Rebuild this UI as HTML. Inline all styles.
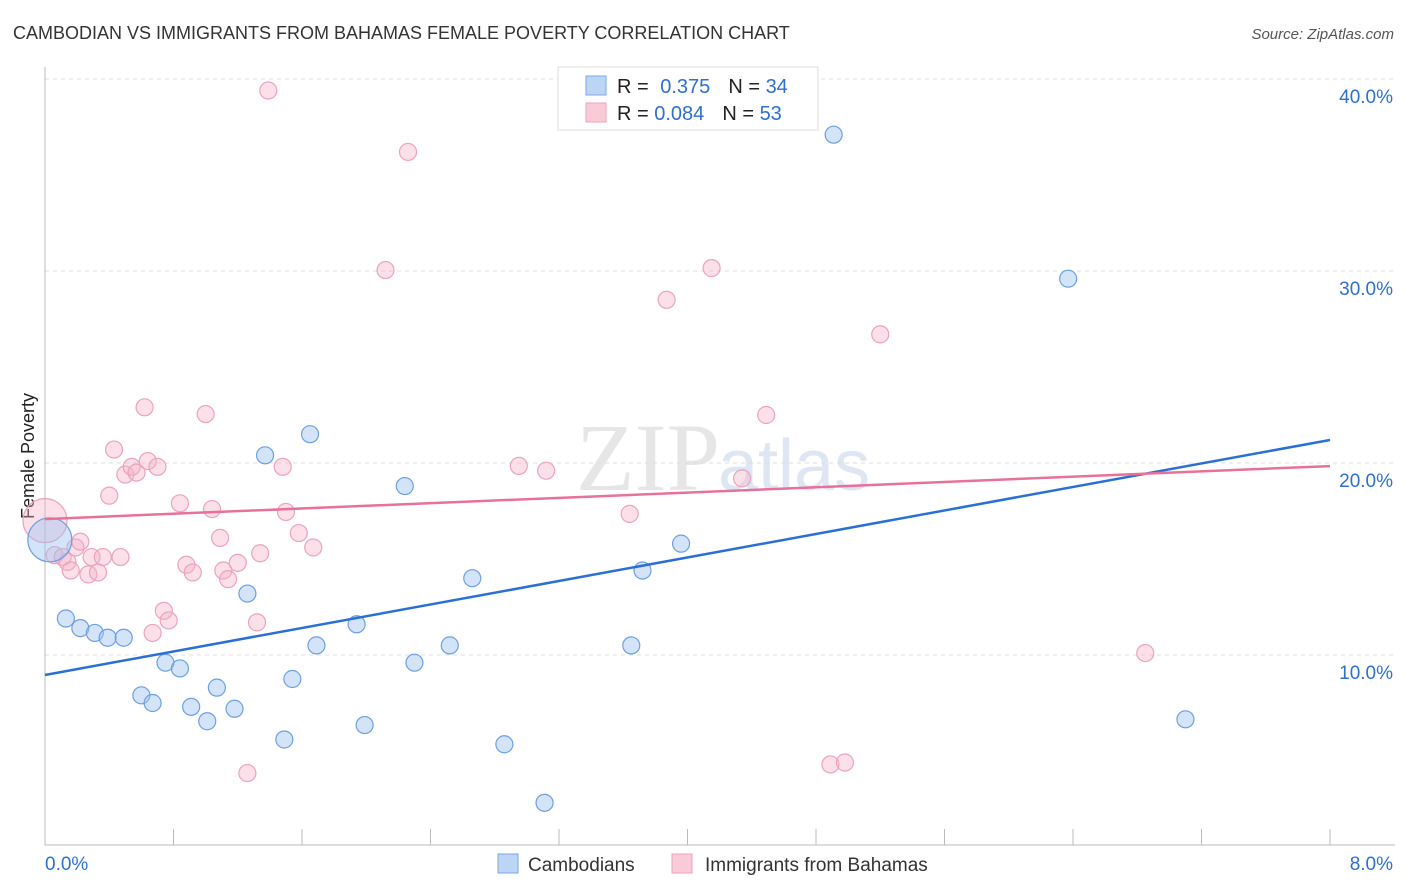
<!DOCTYPE html>
<html><head><meta charset="utf-8">
<style>
body{margin:0;background:#fff;font-family:"Liberation Sans",sans-serif;}
#wrap{position:relative;width:1406px;height:892px;overflow:hidden;}
</style></head>
<body>
<div id="wrap">
<svg id="svg" width="1406" height="892" xmlns="http://www.w3.org/2000/svg">
<text x="13" y="39" font-size="18" fill="#333">CAMBODIAN VS IMMIGRANTS FROM BAHAMAS FEMALE POVERTY CORRELATION CHART</text>
<text x="1394" y="39" font-size="15" fill="#555" text-anchor="end" font-style="italic">Source: ZipAtlas.com</text>
<text x="720" y="490" font-size="96" fill="#e6e6e6" text-anchor="end" font-family="Liberation Serif, serif">ZIP</text>
<text x="718" y="490" font-size="72" fill="#dde6f2">atlas</text>
<text transform="translate(34,456) rotate(-90)" font-size="18" fill="#222" text-anchor="middle">Female Poverty</text>
<g id="grid"></g>
<g id="axes"></g>
<g id="pts"></g>
<g id="lines"></g>
<g>
<rect x="558" y="67" width="260" height="63" fill="#fff" stroke="#ddd"/>
<rect x="586" y="76" width="20" height="19" fill="#bcd5f5" stroke="#7aa7e3"/>
<rect x="586" y="103" width="20" height="19" fill="#fbcad8" stroke="#eca2ba"/>
<text x="617" y="93" font-size="20" fill="#222">R = <tspan fill="#2f6fd0" dx="6">0.375</tspan><tspan dx="18" fill="#222">N = </tspan><tspan fill="#2f6fd0">34</tspan></text>
<text x="617" y="120" font-size="20" fill="#222">R = <tspan fill="#2f6fd0">0.084</tspan><tspan dx="18" fill="#222">N = </tspan><tspan fill="#2f6fd0">53</tspan></text>
</g>
<g>
<rect x="498" y="854" width="20" height="19" fill="#bcd5f5" stroke="#7aa7e3"/>
<text x="528" y="871" font-size="19" fill="#333">Cambodians</text>
<rect x="672" y="854" width="20" height="19" fill="#fbcad8" stroke="#eca2ba"/>
<text x="705" y="871" font-size="19" fill="#333">Immigrants from Bahamas</text>
</g>
</svg>
</div>
<script>
const yTicks=[10,20,30,40];
const yTickLabels=["10.0%","20.0%","30.0%","40.0%"];
const xTickLabels=["0.0%","8.0%"];
const camX=[0.03,0.13,0.22,0.31,0.39,0.49,0.60,0.67,0.75,0.84,0.91,1.01,1.07,1.18,1.26,1.37,1.49,1.54,1.65,1.69,1.94,1.99,2.24,2.30,2.52,2.66,2.86,3.11,3.65,3.72,3.96,4.91,6.37,7.10];
const camY=[16.0,11.9,11.4,11.15,10.9,10.9,7.9,7.5,9.6,9.3,7.3,6.55,8.3,7.2,13.2,20.4,5.6,8.75,21.5,10.5,11.6,6.35,18.8,9.6,10.5,14.0,5.35,2.3,10.5,14.4,15.8,37.1,29.6,6.65];
const bahX=[0.0,0.06,0.11,0.14,0.16,0.19,0.22,0.27,0.29,0.33,0.36,0.40,0.43,0.47,0.50,0.54,0.57,0.62,0.64,0.67,0.70,0.74,0.77,0.84,0.88,0.92,1.00,1.04,1.09,1.11,1.14,1.20,1.26,1.32,1.34,1.39,1.48,1.50,1.58,1.67,2.12,2.26,2.95,3.12,3.64,3.87,4.15,4.34,4.49,4.89,4.98,5.20,6.85];
const bahY=[17.0,15.2,15.1,14.85,14.4,15.6,15.9,14.2,15.1,14.3,15.1,18.3,20.7,15.1,19.4,19.8,19.5,22.9,20.1,11.15,19.8,12.3,11.8,17.9,14.7,14.3,22.55,17.6,16.1,14.4,13.95,14.8,3.85,11.7,15.3,39.4,19.8,17.45,16.35,15.6,30.05,36.2,19.85,19.6,17.35,28.5,30.15,19.2,22.5,4.3,4.4,26.7,10.1];
const camTrend=[8.96,21.2];
const bahTrend=[17.08,19.84];
const X0=45,X1=1330,Y0=847,PPY=19.2;
const sx=v=>X0+v/8*(X1-X0);
const sy=v=>Y0-v*PPY;
const NS="http://www.w3.org/2000/svg";
function mk(tag,attrs,parent){const e=document.createElementNS(NS,tag);for(const k in attrs)e.setAttribute(k,attrs[k]);parent.appendChild(e);return e;}
const grid=document.getElementById('grid'),axes=document.getElementById('axes'),pts=document.getElementById('pts'),lines=document.getElementById('lines');
yTicks.forEach((t,i)=>{
 const l=mk('line',{x1:45,x2:1395,y1:sy(t),y2:sy(t),stroke:'#ddd','stroke-dasharray':'4,4'},grid);
 
 
 const tx=mk('text',{x:1393,y:sy(t)+24,'font-size':19,fill:'#2f6fd0','text-anchor':'end'},axes);
 tx.textContent=yTickLabels[i];
 
 
});
const ya=mk('line',{x1:45,x2:45,y1:67,y2:845,stroke:'#bbb'},axes);


const xa=mk('line',{x1:45,x2:1395,y1:845,y2:845,stroke:'#bbb'},axes);


for(let i=1;i<=10;i++){
 const v=i*0.8;
 const tk=mk('line',{x1:sx(v),x2:sx(v),y1:829,y2:845,stroke:'#bbb'},axes);
 
 
}
[[0,45,'start'],[8,1393,'end']].forEach((d,i)=>{
 const tx=mk('text',{x:d[1],y:870,'font-size':19,fill:'#2f6fd0','text-anchor':d[2]},axes);
 tx.textContent=xTickLabels[i];
 
 
});
function dots(xs,ys,fill,stroke,name){
 xs.forEach((x,i)=>{
  const r=(i===0&&x<0.05)?22:8.5;
  const c=mk('circle',{cx:sx(x),cy:sy(ys[i]),r:r,fill:fill,stroke:stroke,'stroke-width':1.2},pts);
  
  
 });
}
dots(bahX,bahY,'rgba(246,178,200,0.4)','#eba3bb','point-bahamas');
dots(camX,camY,'rgba(160,196,240,0.45)','#6e9fe0','point-cambodians');
const bl=mk('line',{x1:sx(0),y1:sy(camTrend[0]),x2:sx(8),y2:sy(camTrend[1]),stroke:'#2a6fd6','stroke-width':2.5},lines);


const pl=mk('line',{x1:sx(0),y1:sy(bahTrend[0]),x2:sx(8),y2:sy(bahTrend[1]),stroke:'#e8719a','stroke-width':2.5},lines);


</script>
</body></html>
